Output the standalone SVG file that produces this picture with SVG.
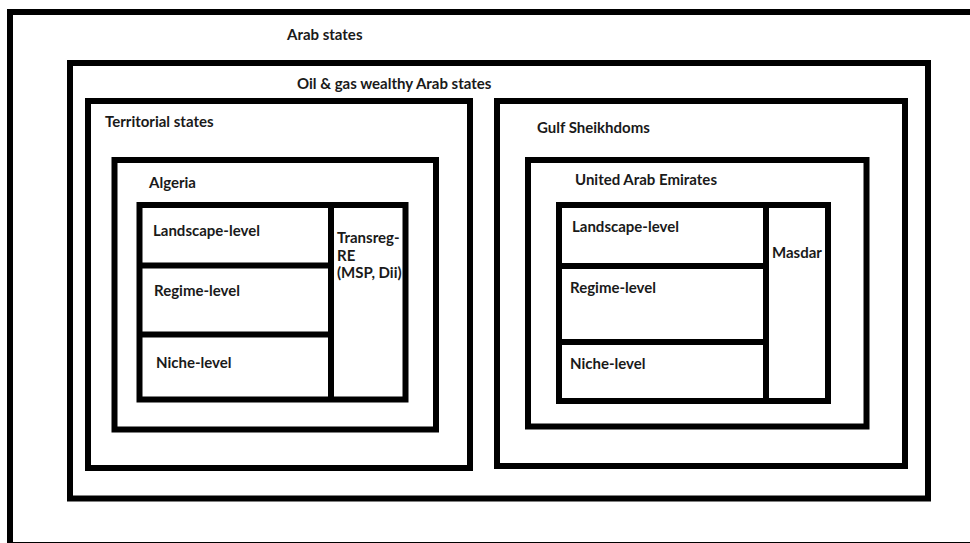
<svg xmlns="http://www.w3.org/2000/svg" width="970" height="543" viewBox="0 0 970 543">
  <style>
    .box { fill: none; stroke: #000; stroke-width: 6; }
    .div { stroke: #000; stroke-width: 6; }
    .lbl { font-family: Lato, "Liberation Sans", Arial, sans-serif; font-weight: bold; font-size: 15px; fill: #1a1a1a; }
  </style>
  <rect width="970" height="543" fill="#fff"/>

  <g id="arab-states">
    <rect class="box" x="10" y="12" width="970" height="533"/>
    <text class="lbl" x="287" y="40">Arab states</text>
  </g>

  <g id="oil-gas-states">
    <rect class="box" x="70" y="63" width="858" height="435.5"/>
    <text class="lbl" x="297" y="89">Oil &amp; gas wealthy Arab states</text>
  </g>

  <g id="territorial-states">
    <rect class="box" x="88" y="101" width="382" height="367"/>
    <text class="lbl" x="105" y="127">Territorial states</text>
  </g>

  <g id="gulf-sheikhdoms">
    <rect class="box" x="497" y="101" width="408" height="365"/>
    <text class="lbl" x="537" y="133">Gulf Sheikhdoms</text>
  </g>

  <g id="algeria">
    <rect class="box" x="114.5" y="160" width="321.5" height="269.5"/>
    <text class="lbl" x="149" y="188">Algeria</text>
  </g>

  <g id="uae">
    <rect class="box" x="528" y="160" width="338.5" height="266.5"/>
    <text class="lbl" x="575" y="185">United Arab Emirates</text>
  </g>

  <!-- Algeria: multi-level panel -->
  <g id="algeria-levels">
    <rect class="box" x="139.5" y="205" width="266" height="194.5"/>
    <line class="div" x1="331" y1="205" x2="331" y2="399.5"/>
    <line class="div" x1="139.5" y1="265.5" x2="331" y2="265.5"/>
    <line class="div" x1="139.5" y1="334.5" x2="331" y2="334.5"/>
  </g>
  <g id="alg-landscape"><text class="lbl" x="153" y="236">Landscape-level</text></g>
  <g id="alg-regime"><text class="lbl" x="154" y="296">Regime-level</text></g>
  <g id="alg-niche"><text class="lbl" x="156" y="368">Niche-level</text></g>
  <g id="alg-transreg">
    <text class="lbl" x="337" y="243">Transreg-</text>
    <text class="lbl" x="337" y="261">RE</text>
    <text class="lbl" x="337" y="278">(MSP, Dii)</text>
  </g>

  <!-- UAE: multi-level panel -->
  <g id="uae-levels">
    <rect class="box" x="559" y="205" width="269" height="196"/>
    <line class="div" x1="766" y1="205" x2="766" y2="401"/>
    <line class="div" x1="559" y1="266" x2="766" y2="266"/>
    <line class="div" x1="559" y1="342" x2="766" y2="342"/>
  </g>
  <g id="uae-landscape"><text class="lbl" x="572" y="232">Landscape-level</text></g>
  <g id="uae-regime"><text class="lbl" x="570" y="293">Regime-level</text></g>
  <g id="uae-niche"><text class="lbl" x="570" y="369">Niche-level</text></g>
  <g id="uae-masdar"><text class="lbl" x="772" y="258">Masdar</text></g>

  <g id="connectors"></g>
</svg>
